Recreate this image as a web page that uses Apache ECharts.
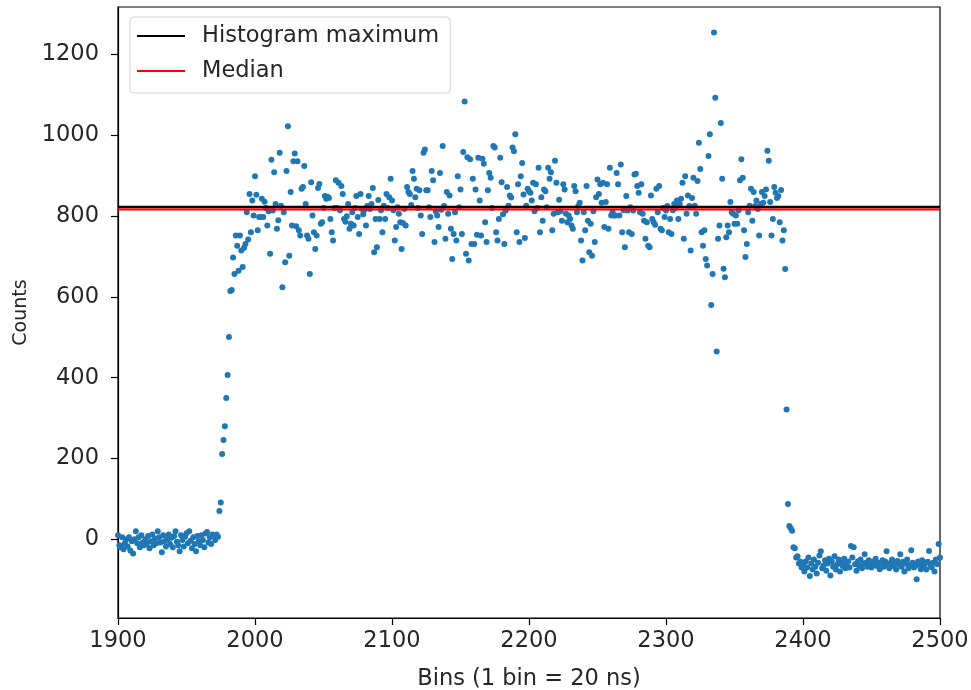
<!DOCTYPE html>
<html>
<head>
<meta charset="utf-8">
<script src="https://cdn.jsdelivr.net/npm/echarts@6/dist/echarts.min.js"></script>
<style>
  html, body { margin: 0; padding: 0; background: #fff; }
  #chart { width: 971px; height: 690px; }
</style>
</head>
<body>
<div id="chart"></div>
<script>
// ---- data ----
const binStart = 1900; // first bin shown
const counts = [
  10, -15, -20, 5, -25, -10, 0, -18, 5, -28,
  -5, -35, 0, 20, -10, 5, -20, 10, -8, -15,
  0, -12, 8, -22, -5, 12, -15, 2, -10, 20,
  5, -8, -32, 10, -5, -18, 0, 12, -12, 4,
  -20, 8, 20, -6, -15, -30, 10, -2, -18, 6,
  15, -10, 20, -4, -22, 5, -12, -30, 8, -5,
  -15, 10, -2, -20, 14, 18, -8, 5, -12, 12,
  8, -2, 12, 6, 70, 91, 211, 246, 280, 350,
  407, 501, 615, 617, 698, 657, 752, 727, 665, 752,
  715, 674, 722, 731, 810, 742, 855, 760, 839, 802,
  899, 853, 765, 798, 798, 843, 798, 836, 820, 777,
  812, 707, 940, 814, 909, 830, 769, 790, 957, 826,
  624, 810, 686, 912, 1023, 702, 860, 777, 936, 955,
  775, 936, 765, 752, 868, 872, 924, 830, 752, 744,
  657, 884, 802, 760, 719, 752, 870, 880, 781, 785,
  820, 850, 843, 848, 845, 793, 760, 740, 820, 889,
  820, 883, 815, 875, 855, 793, 786, 800, 830, 769,
  781, 810, 777, 820, 850, 798, 756, 855, 818, 805,
  816, 777, 825, 850, 818, 830, 870, 711, 793, 723,
  840, 793, 815, 760, 826, 793, 855, 820, 847, 893,
  839, 815, 740, 773, 822, 806, 785, 719, 783, 818,
  777, 872, 860, 855, 828, 912, 893, 847, 868, 820,
  864, 802, 756, 957, 965, 864, 864, 822, 798, 912,
  889, 736, 812, 802, 773, 907, 816, 974, 825, 744,
  860, 806, 851, 769, 694, 756, 810, 740, 899, 822,
  866, 756, 959, 1084, 707, 946, 690, 941, 731, 893,
  731, 866, 754, 945, 839, 752, 942, 930, 785, 736,
  864, 907, 895, 820, 974, 970, 760, 740, 793, 945,
  884, 805, 731, 814, 872, 826, 851, 846, 970, 961,
  1003, 760, 879, 736, 899, 932, 854, 746, 826, 868,
  862, 858, 839, 883, 812, 879, 820, 920, 760, 847,
  789, 866, 862, 822, 920, 893, 909, 765, 806, 937,
  883, 810, 841, 812, 789, 879, 866, 806, 785, 802,
  793, 777, 769, 875, 862, 810, 825, 833, 740, 690,
  810, 765, 875, 789, 711, 781, 702, 812, 736, 847,
  891, 855, 879, 833, 883, 773, 835, 879, 769, 920,
  802, 810, 802, 802, 907, 879, 802, 928, 760, 815,
  723, 850, 814, 760, 822, 756, 814, 903, 905, 875,
  858, 810, 879, 806, 789, 744, 785, 727, 723, 851,
  793, 785, 779, 868, 810, 875, 769, 765, 820, 798,
  814, 825, 760, 793, 756, 815, 830, 820, 839, 793,
  830, 843, 883, 744, 899, 806, 851, 825, 715, 845,
  895, 826, 806, 887, 982, 917, 760, 727, 765, 694,
  678, 949, 1003, 580, 657, 1255, 1093, 465, 744, 777,
  1031, 893, 670, 649, 748, 777, 760, 835, 810, 806,
  781, 802, 781, 815, 889, 941, 895, 765, 699, 731,
  810, 826, 868, 789, 860, 825, 839, 818, 752, 830,
  860, 833, 850, 866, 962, 937, 835, 752, 793, 872,
  858, 845, 850, 785, 865, 740, 765, 669, 321, 87,
  33, 27, 21, -20, -22, -45, -42, -60, -55, -70,
  -62, -80, -55, -70, -45, -91, -60, -75, -50, -68,
  -85, -58, -40, -30, -72, -65, -52, -78, -60, -48,
  -90, -55, -68, -42, -75, -62, -50, -80, -58, -66,
  -48, -72, -60, -55, -70, -17, -45, -20, -62, -78,
  -55, -66, -50, -72, -60, -37, -58, -68, -52, -64,
  -70, -56, -62, -48, -66, -58, -74, -60, -52, -68,
  -55, -30, -64, -72, -58, -50, -66, -60, -75, -54,
  -62, -37, -68, -56, -80, -60, -50, -72, -64, -27,
  -58, -70, -66, -99, -55, -62, -74, -52, -68, -60,
  -75, -56, -29, -64, -70, -58, -80, -50, -62, -12,
  -45
];
const histogramMaximum = 823;
const medianValue = 817;
const xRange = [1900, 2500];
const yRange = [-195, 1318];
const yTickValues = [0, 200, 400, 600, 800, 1000, 1200];
const seriesNames = ['Histogram maximum', 'Median'];
const axisNames = { x: 'Bins (1 bin = 20 ns)', y: 'Counts' };

// ---- chart ----
const points = counts.map((v, i) => [binStart + i, v]);
const FONT = 'DejaVu Sans';
const TXT = '#262626';
const FS = 22.5;
const plain = v => String(v);
const chart = echarts.init(document.getElementById('chart'), null, { renderer: 'canvas' });
chart.setOption({
  animation: false,
  backgroundColor: '#ffffff',
  textStyle: { fontFamily: FONT },
  grid: {
    left: 118, right: 31, top: 7, bottom: 72,
    outerBoundsMode: 'none', containLabel: false,
    show: true, borderColor: '#000', borderWidth: 1.2, backgroundColor: 'transparent'
  },
  legend: {
    data: [
      { name: seriesNames[0], icon: 'rect' },
      { name: seriesNames[1], icon: 'rect' }
    ],
    orient: 'vertical',
    left: 130, top: 17,
    padding: [7, 11, 10, 7],
    itemGap: 11,
    itemWidth: 48, itemHeight: 2.2,
    borderColor: '#d4d4d4', borderWidth: 1, borderRadius: 4,
    backgroundColor: 'rgba(255,255,255,0.85)',
    textStyle: { fontFamily: FONT, fontSize: FS, color: TXT, padding: [0, 0, 0, 12], lineHeight: 24 }
  },
  xAxis: {
    type: 'value', min: xRange[0], max: xRange[1], interval: 100,
    name: axisNames.x, nameLocation: 'middle', nameGap: 50,
    nameTextStyle: { fontFamily: FONT, fontSize: FS, color: TXT },
    axisLine: { show: true, onZero: false, lineStyle: { color: '#000', width: 1.2 } },
    axisTick: { show: true, inside: false, length: 7, lineStyle: { color: '#000', width: 1.2 } },
    axisLabel: { fontFamily: FONT, fontSize: FS, color: TXT, margin: 12, formatter: plain },
    splitLine: { show: false }
  },
  yAxis: {
    type: 'value', min: yRange[0], max: yRange[1],
    name: axisNames.y, nameLocation: 'middle', nameGap: 87, nameRotate: 90,
    nameTextStyle: { fontFamily: FONT, fontSize: 19, color: TXT },
    axisLine: { show: true, onZero: false, lineStyle: { color: '#000', width: 1.2 } },
    axisTick: { show: true, inside: false, length: 7, customValues: yTickValues, lineStyle: { color: '#000', width: 1.2 } },
    axisLabel: { fontFamily: FONT, fontSize: FS, color: TXT, margin: 19, customValues: yTickValues, formatter: plain },
    splitLine: { show: false }
  },
  series: [
    {
      name: 'Counts', type: 'scatter', data: points,
      symbol: 'circle', symbolSize: 6,
      itemStyle: { color: '#1f77b4', opacity: 1 },
      z: 1, silent: true
    },
    {
      name: seriesNames[0], type: 'line',
      data: [[xRange[0], histogramMaximum], [xRange[1], histogramMaximum]],
      showSymbol: false, symbol: 'none',
      lineStyle: { color: '#000', width: 2.2 }, itemStyle: { color: '#000' },
      z: 3, silent: true
    },
    {
      name: seriesNames[1], type: 'line',
      data: [[xRange[0], medianValue], [xRange[1], medianValue]],
      showSymbol: false, symbol: 'none',
      lineStyle: { color: '#ff0000', width: 2.2 }, itemStyle: { color: '#ff0000' },
      z: 4, silent: true
    }
  ]
});
</script>
</body>
</html>
